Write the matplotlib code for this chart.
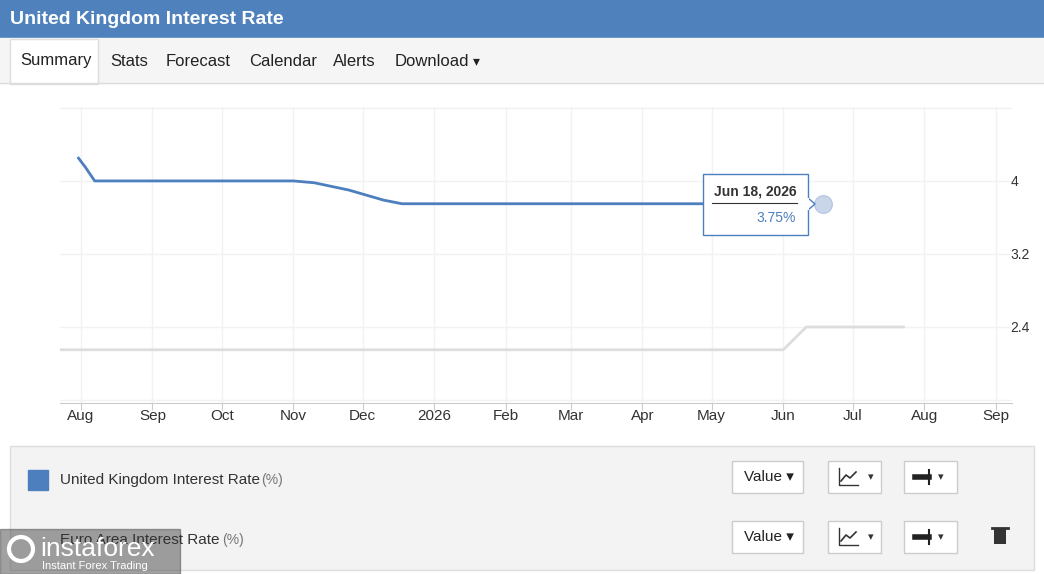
import numpy as np
import matplotlib.pyplot as plt
from matplotlib.patches import Rectangle, Circle, Polygon
from datetime import datetime

# data
uk_dates = ["2025-07-31", "2025-08-03", "2025-08-07", "2025-11-01", "2025-11-10",
            "2025-11-25", "2025-12-10", "2025-12-18", "2026-06-18"]
uk_rates = [4.25, 4.15, 4.0, 4.0, 3.98, 3.9, 3.79, 3.75, 3.75]
ea_dates = ["2025-07-23", "2026-06-01", "2026-06-05", "2026-06-11", "2026-07-23"]
ea_rates = [2.15, 2.15, 2.25, 2.4, 2.4]
month_ticks = ["2025-08-01", "2025-09-01", "2025-10-01", "2025-11-01", "2025-12-01",
               "2026-01-01", "2026-02-01", "2026-03-01", "2026-04-01", "2026-05-01",
               "2026-06-01", "2026-07-01", "2026-08-01", "2026-09-01"]
month_labels = ["Aug", "Sep", "Oct", "Nov", "Dec", "2026", "Feb", "Mar", "Apr",
                "May", "Jun", "Jul", "Aug", "Sep"]
y_ticks = [2.4, 3.2, 4]

W, H = 1044, 574
BLUE = "#4d7fbf"
fig = plt.figure(figsize=(W / 100, H / 100), dpi=100)
plt.rcParams["font.family"] = ["Liberation Sans", "DejaVu Sans"]


def pixel_axes():
    a = fig.add_axes([0, 0, 1, 1])
    a.set_xlim(0, W)
    a.set_ylim(H, 0)
    a.axis("off")
    a.patch.set_alpha(0)
    return a


ov = pixel_axes()
ov.add_patch(Rectangle((0, 0), W, 38, color="#4f81bd"))
ov.text(10, 19, "United Kingdom Interest Rate", color="white", fontsize=14,
        fontweight="bold", va="center")
ov.add_patch(Rectangle((0, 38), W, 45, color="#f5f5f5"))
ov.plot([0, W], [83, 83], color="#dddddd", lw=1)
ov.add_patch(Rectangle((10, 39), 88, 45, facecolor="white", edgecolor="#dddddd", lw=1))
for x, t in [(20, "Summary"), (110, "Stats"), (166, "Forecast"), (249, "Calendar"),
             (333, "Alerts"), (395, "Download")]:
    ov.text(x, 61, t, fontsize=12, va="center", color="#222222")
ov.text(473, 61, "\u25be", fontsize=10, va="center", color="#222222")

# legend panel
ov.add_patch(Rectangle((10, 446), 1024, 124, facecolor="#f3f3f3", edgecolor="#dddddd", lw=1))
ov.add_patch(Rectangle((28, 470), 20, 20, color=BLUE))
ov.text(60, 480, "United Kingdom Interest Rate", fontsize=11, va="center", color="#333333")
ov.text(261, 480, "(%)", fontsize=10, va="center", color="#777777")
ov.text(60, 540, "Euro Area Interest Rate", fontsize=11, va="center", color="#333333")
ov.text(222, 540, "(%)", fontsize=10, va="center", color="#777777")
for yc in (477, 537):
    for x0, w in [(732, 71), (828, 53), (904, 53)]:
        ov.add_patch(Rectangle((x0, yc - 16), w, 32, facecolor="white",
                               edgecolor="#cccccc", lw=1))
    ov.text(744, yc, "Value \u25be", fontsize=11, va="center", color="#222222")
    ov.plot([839, 839, 858], [yc - 9, yc + 8, yc + 8], color="#333333", lw=1)
    ov.plot([841, 846, 850, 856], [yc + 4, yc - 2, yc + 1, yc - 5], color="#333333", lw=1.2)
    ov.text(868, yc, "\u25be", fontsize=8, va="center", color="#333333")
    ov.plot([915, 929], [yc, yc], color="#222222", lw=4)
    ov.plot([929, 929], [yc - 7, yc + 7], color="#222222", lw=1.5)
    ov.text(938, yc, "\u25be", fontsize=8, va="center", color="#333333")
ov.add_patch(Rectangle((994, 529), 12, 15, facecolor="#333333"))
ov.plot([992, 1008], [528, 528], color="#333333", lw=2)

# watermark
ov.add_patch(Rectangle((0, 529), 180, 45, color="#555555", alpha=0.55))
ov.text(40, 549, "instaforex", fontsize=19, color="white", va="center")
ov.text(42, 566, "Instant Forex Trading", fontsize=8, color="white", va="center")
ov.add_patch(Circle((21, 549), 12, facecolor="none", edgecolor="white", lw=3))

# chart
x0, x1, yb, yt = 60, 1012, 403, 107
ax = fig.add_axes([x0 / W, (H - yb) / H, (x1 - x0) / W, (yb - yt) / H])
ax.patch.set_alpha(0)
ud = [datetime.fromisoformat(d) for d in uk_dates]
ed = [datetime.fromisoformat(d) for d in ea_dates]
md = [datetime.fromisoformat(d) for d in month_ticks]
ax.plot(ed, ea_rates, color="#dddddd", lw=2)
ax.plot(ud, uk_rates, color=BLUE, lw=2)
ax.scatter([ud[-1]], [uk_rates[-1]], s=160, color="#c9d6ea", edgecolor="#b8c9e4", zorder=5)
ax.set_xlim(datetime(2025, 7, 23), datetime(2026, 9, 8))
ax.set_ylim(1.567, 4.81)
ax.set_xticks(md)
ax.set_xticklabels(month_labels, fontsize=11, color="#333333")
ax.set_yticks(y_ticks + [1.6, 4.8])
ax.set_yticklabels(["2.4", "3.2", "4", "", ""], fontsize=10, color="#333333")
ax.yaxis.tick_right()
ax.tick_params(axis="y", length=0, pad=-1)
ax.tick_params(axis="x", length=5, color="#cccccc", pad=-1)
ax.grid(True, color="#f2f2f2", lw=1)
for s in ["top", "left", "right"]:
    ax.spines[s].set_visible(False)
ax.spines["bottom"].set_color("#cccccc")

# tooltip on top of the chart
tp = pixel_axes()
tp.add_patch(Rectangle((703, 174), 105, 61, facecolor="white", edgecolor=BLUE, lw=1))
tp.add_patch(Polygon([(808, 198), (815, 204), (808, 210)], closed=True,
                     facecolor="white", edgecolor=BLUE, lw=1))
tp.plot([808, 808], [199, 209], color="white", lw=1.5)
tp.text(755, 192, "Jun 18, 2026", fontsize=10, fontweight="bold", ha="center",
        va="center", color="#333333")
tp.plot([712, 797], [203, 203], color="#333333", lw=0.8)
tp.text(796, 218, "3.75%", fontsize=10, ha="right", va="center", color=BLUE)

fig.savefig("out.png", dpi=100)
